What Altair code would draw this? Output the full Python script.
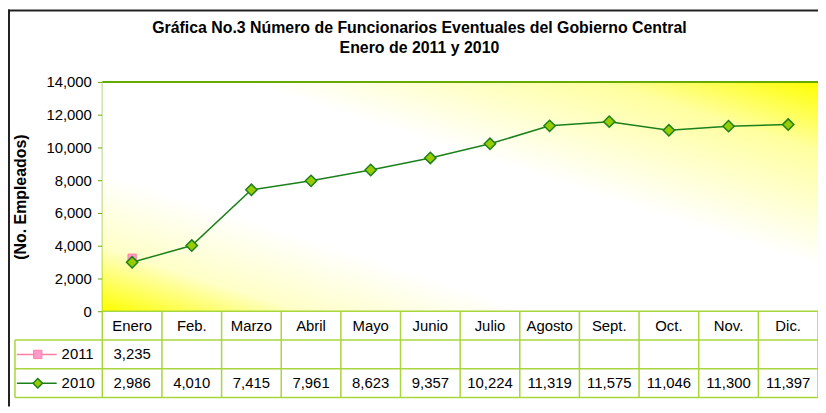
import altair as alt
import pandas as pd

# ---------------- data ----------------
months = ["Enero", "Feb.", "Marzo", "Abril", "Mayo", "Junio", "Julio",
          "Agosto", "Sept.", "Oct.", "Nov.", "Dic."]
vals_2010 = [2986, 4010, 7415, 7961, 8623, 9357, 10224, 11319, 11575, 11046, 11300, 11397]
vals_2011 = [3235]
series = ["2011", "2010"]
y_ticks = [0, 2000, 4000, 6000, 8000, 10000, 12000, 14000]
title_lines = ["Gráfica No.3 Número de Funcionarios Eventuales del Gobierno Central",
               "Enero de 2011 y 2010"]
y_title = "(No. Empleados)"

# ---------------- layout ----------------
W, H = 721, 231            # plot area
PAD = {"left": 95, "top": 73, "right": 0, "bottom": 96}
TAB_TOP, TAB_BOTTOM = H, H + 87
FONT = "Liberation Sans"
GREEN_AX = "#66aa00"
GRID_T = "#a8d63c"
LINE_G = "#1a801a"
FILL_G = "#99cc00"
PINK_F = "#ff99cc"
PINK_S = "#ff7f9f"


def u(px):  # pixel offset -> x data units
    return px * 12 / W


x_scale = alt.Scale(domain=[0, 12], nice=False, zero=False)
y_scale = alt.Scale(domain=[0, 14000], nice=False)
t_scale = alt.Scale(domain=[0, 3], range=[TAB_TOP, TAB_BOTTOM], nice=False, zero=False)

y_axis = alt.Axis(values=y_ticks, format=",.0f", grid=False,
                  labelFont=FONT, labelFontSize=15, labelColor="black",
                  labelPadding=6, tickSize=5, tickColor=GREEN_AX,
                  domainColor=GREEN_AX, domainWidth=2,
                  title=y_title, titleFont=FONT, titleFontSize=16,
                  titleFontWeight="bold", titleColor="black", titlePadding=17)

df10 = pd.DataFrame({"mes": months, "pos": [i + 0.5 for i in range(12)], "v": vals_2010})
df11 = pd.DataFrame({"mes": months[:len(vals_2011)],
                     "pos": [i + 0.5 for i in range(len(vals_2011))], "v": vals_2011})

X = lambda f: alt.X(f, scale=x_scale, axis=None)
Y = lambda f: alt.Y(f, scale=y_scale, axis=y_axis)
T = lambda f: alt.Y(f, scale=t_scale, axis=None)

# ---------------- plot area ----------------
grad = alt.Gradient(
    gradient="linear",
    stops=[alt.GradientStop(color="#ffff00", offset=0),
           alt.GradientStop(color="#ffffc8", offset=0.14),
           alt.GradientStop(color="#ffffff", offset=0.3),
           alt.GradientStop(color="#ffffff", offset=0.6),
           alt.GradientStop(color="#ffffa0", offset=0.85),
           alt.GradientStop(color="#ffff00", offset=1)],
    x1=0, y1=1, x2=1, y2=0)

bg = alt.Chart(pd.DataFrame({"x": [0], "x2": [12], "y": [0], "y2": [14000]})).mark_rect(
    fill=grad).encode(x=X("x:Q"), x2="x2:Q", y=Y("y:Q"), y2="y2:Q")

top_line = alt.Chart(pd.DataFrame({"x": [0], "x2": [12], "y": [14000]})).mark_rule(
    color=GREEN_AX, strokeWidth=2).encode(x=X("x:Q"), x2="x2:Q", y=Y("y:Q"))

line10 = alt.Chart(df10).mark_line(color=LINE_G, strokeWidth=1.5).encode(
    x=X("pos:Q"), y=Y("v:Q"))
pts11 = alt.Chart(df11).mark_point(shape="square", size=70, fill=PINK_F, stroke=PINK_S,
                                   strokeWidth=1, opacity=1, fillOpacity=1).encode(
    x=X("pos:Q"), y=Y("v:Q"))
pts10 = alt.Chart(df10).mark_point(shape="diamond", size=130, fill=FILL_G, stroke=LINE_G,
                                   strokeWidth=1.5, opacity=1, fillOpacity=1).encode(
    x=X("pos:Q"), y=Y("v:Q"))

plot = alt.layer(bg, top_line, line10, pts11, pts10)

# ---------------- data table ----------------
rows = []
for i, m in enumerate(months):
    rows.append({"pos": i + 0.5, "row": 0.5, "txt": m})
for i, v in enumerate(vals_2011):
    rows.append({"pos": i + 0.5, "row": 1.5, "txt": f"{v:,}"})
for i, v in enumerate(vals_2010):
    rows.append({"pos": i + 0.5, "row": 2.5, "txt": f"{v:,}"})
cells = pd.DataFrame(rows)

LEG_L = u(-88)
vlines = pd.DataFrame({"x": list(range(13)) + [LEG_L],
                       "y": [0] * 13 + [1], "y2": [3] * 13 + [3]})
hlines = pd.DataFrame({"y": [0, 1, 2, 3], "x": [0, LEG_L, LEG_L, LEG_L], "x2": [12] * 4})

vr = alt.Chart(vlines).mark_rule(color=GRID_T, strokeWidth=1.5).encode(
    x=X("x:Q"), y=T("y:Q"), y2="y2:Q")
hr = alt.Chart(hlines).mark_rule(color=GRID_T, strokeWidth=1.5).encode(
    x=X("x:Q"), x2="x2:Q", y=T("y:Q"))
txt = alt.Chart(cells).mark_text(font=FONT, fontSize=15, color="black").encode(
    x=X("pos:Q"), y=T("row:Q"), text="txt:N")

leg = pd.DataFrame({"serie": series, "row": [1.5, 2.5],
                    "x": [u(-86)] * 2, "x2": [u(-46)] * 2, "mx": [u(-65)] * 2,
                    "tx": [u(-41)] * 2})
leg_lines = alt.Chart(leg).mark_rule(strokeWidth=1.5).encode(
    x=X("x:Q"), x2="x2:Q", y=T("row:Q"),
    color=alt.Color("serie:N", scale=alt.Scale(domain=series, range=[PINK_S, LINE_G]),
                    legend=None))
leg_sq = alt.Chart(leg[leg.serie == "2011"]).mark_point(
    shape="square", size=70, fill=PINK_F, stroke=PINK_S, strokeWidth=1,
    opacity=1, fillOpacity=1).encode(x=X("mx:Q"), y=T("row:Q"))
leg_dm = alt.Chart(leg[leg.serie == "2010"]).mark_point(
    shape="diamond", size=90, fill=FILL_G, stroke=LINE_G, strokeWidth=1.5,
    opacity=1, fillOpacity=1).encode(x=X("mx:Q"), y=T("row:Q"))
leg_txt = alt.Chart(leg).mark_text(font=FONT, fontSize=15, color="black", align="left").encode(
    x=X("tx:Q"), y=T("row:Q"), text="serie:N")

table = alt.layer(hr, vr, txt, leg_lines, leg_sq, leg_dm, leg_txt)

# ---------------- outer frame ----------------
one = pd.DataFrame({"k": [0]})
frame_l = alt.Chart(one).mark_rule(color="#222222", strokeWidth=2).encode(
    x=alt.value(-94), y=alt.value(-PAD["top"]), y2=alt.value(H + PAD["bottom"]))
frame_t = alt.Chart(one).mark_rule(color="#222222", strokeWidth=2).encode(
    x=alt.value(-95), x2=alt.value(W + PAD["right"]), y=alt.value(-72))

chart = alt.layer(plot, table, frame_l, frame_t).resolve_scale(y="independent").properties(
    width=W, height=H,
    padding=PAD,
    autosize=alt.AutoSizeParams(type="none"),
    background="white",
    title=alt.TitleParams(text=title_lines, anchor="middle", font=FONT, fontSize=16,
                          fontWeight="bold", color="black", lineHeight=20, offset=-48,
                          dx=-41),
).configure_view(stroke=None)

chart.save("out.html", embed_options={"renderer": "svg", "actions": False})
